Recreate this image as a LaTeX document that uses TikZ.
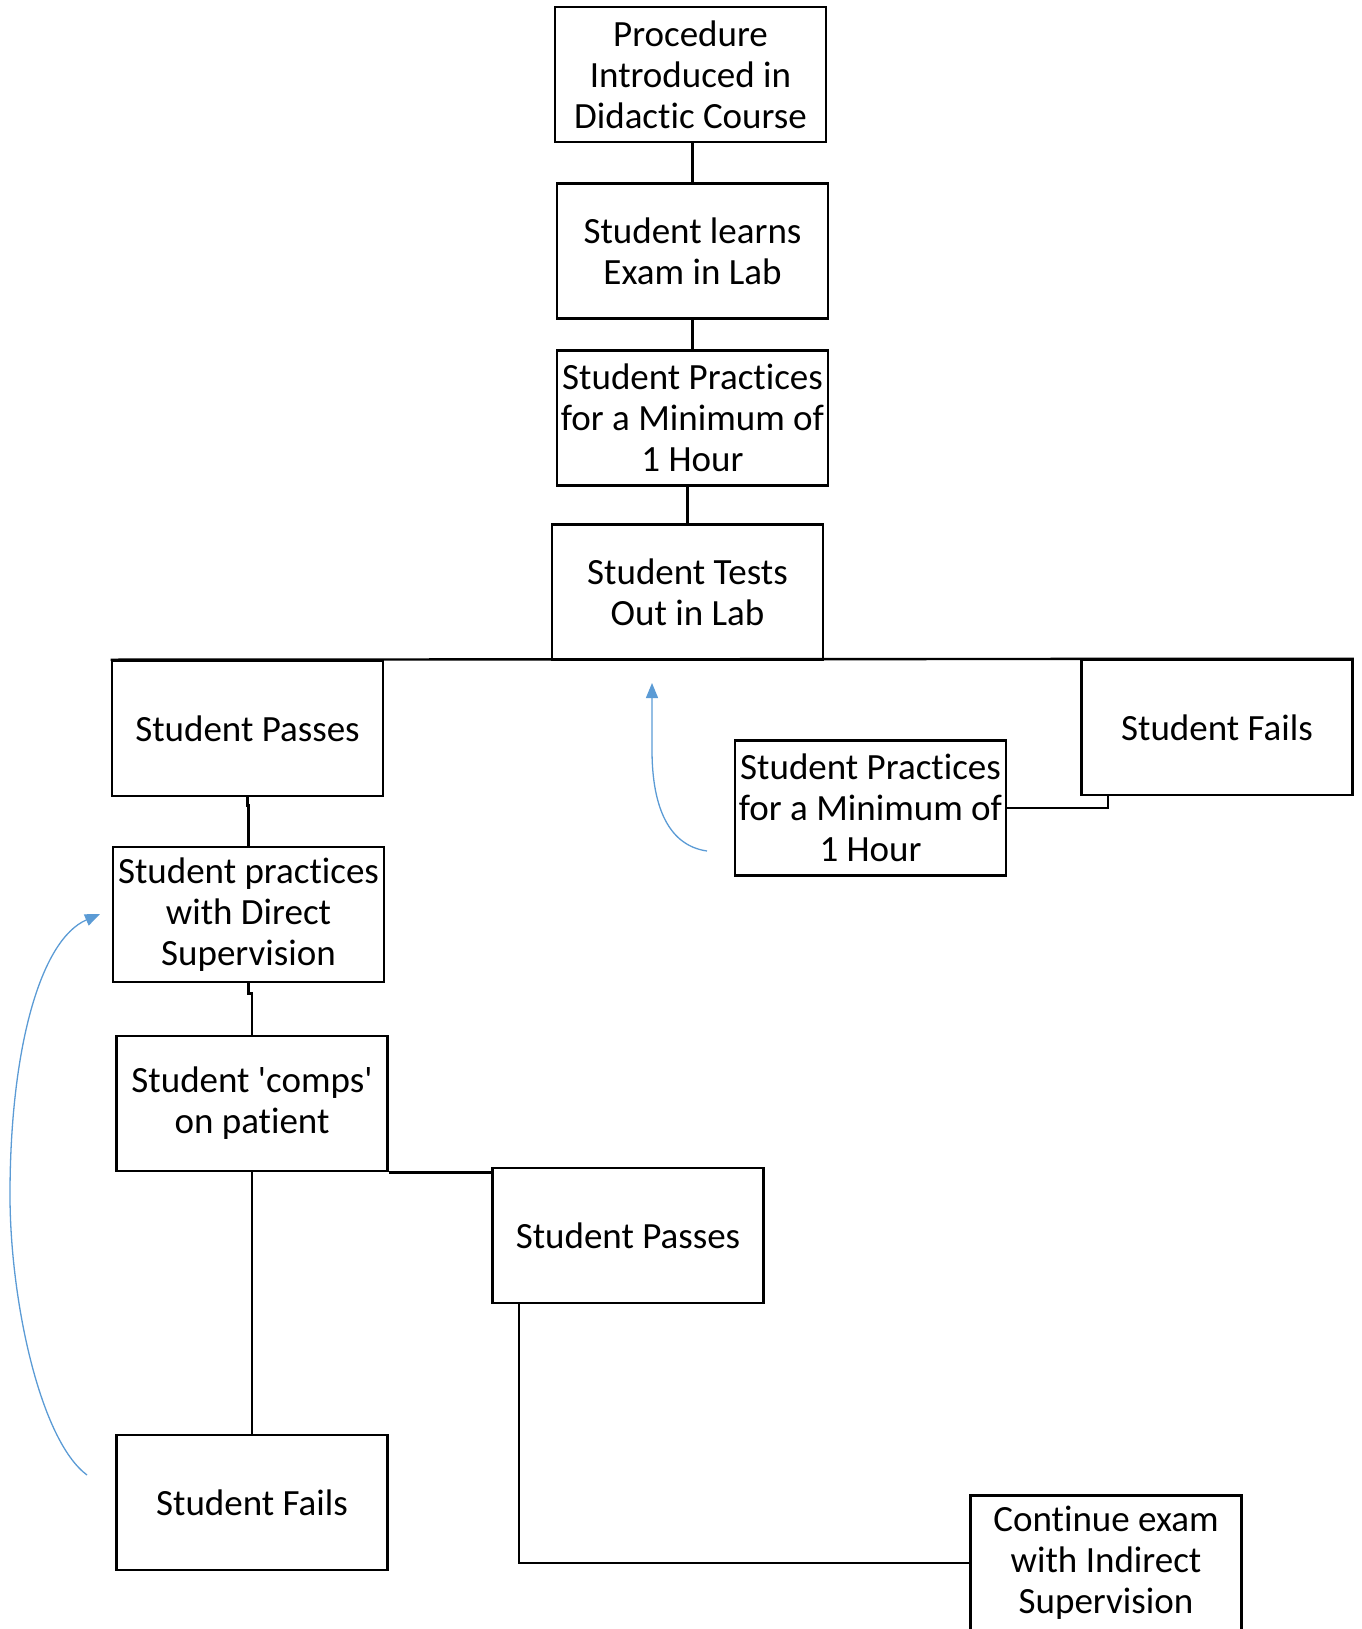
\documentclass[tikz,border=0pt]{standalone}
\usepackage{fontspec}
\setmainfont{Carlito}[RawFeature={-liga;-clig;-dlig;-calt}]
\usetikzlibrary{arrows.meta}
\definecolor{arrblue}{RGB}{91,155,213}
\tikzset{
  box/.style={draw=black, line width=2.6pt, minimum width=271pt, minimum height=135pt,
    inner sep=0pt, align=center, font=\fontsize{37}{41}\selectfont},
  conn/.style={draw=black, line width=2.4pt},
  loopback/.style={draw=arrblue, line width=1.3pt, -{Triangle[length=15pt,width=12pt]}}
}
\begin{document}
\begin{tikzpicture}[x=1pt,y=-1pt]
\useasboundingbox (0,0) rectangle (1361,1629);
\node[box] (n1) at (690.5,74.5) {Procedure\\Introduced in\\Didactic Course};
\node[box] (n2) at (692.5,251) {Student learns\\Exam in Lab};
\node[box] (n3) at (692.5,418) {Student Practices\\for a Minimum of\\1 Hour};
\node[box] (n4) at (687.5,592) {Student Tests\\Out in Lab};
\node[box] (n5) at (247.5,728.5) {Student Passes};
\node[box] (n6) at (1217,727.5) {Student Fails};
\node[box] (n7) at (870.5,808) {Student Practices\\for a Minimum of\\1 Hour};
\node[box] (n8) at (248.5,914.5) {Student practices\\with Direct\\Supervision};
\node[box] (n9) at (252,1103.5) {Student \textquotesingle comps\textquotesingle\\on patient};
\node[box] (n10) at (628,1235.5) {Student Passes};
\node[box] (n11) at (252,1502.5) {Student Fails};
\node[box] (n12) at (1106,1563) {Continue exam\\with Indirect\\Supervision};

\draw[conn] (n2.north) -- (n2.north |- n1.south);
\draw[conn] (n2.south) -- (n3.north);
\draw[conn] (n4.north) -- (n4.north |- n3.south);
\draw[conn] (n5.north west) -- (n6.north east);
\draw[conn] (n5.south) -- ++(0,8) -| (n8.north);
\draw[conn] (n7.east) -| ([xshift=28pt]n6.south west);
\draw[conn] (n8.south) -- ++(0,10) -| (n9.north);
\draw[conn] (n9.south) -- (n11.north);
\draw[conn] (n9.south east) -- (n9.south east -| n10.west);
\draw[conn] ([xshift=28pt]n10.south west) |- (n12.west);

\coordinate (a1s) at (707,851);
\coordinate (a1e) at (652,683);
\draw[loopback] (a1s) .. controls (665,845) and (652,800) .. (652,750) -- (a1e);
\coordinate (a2s) at (87,1475);
\coordinate (a2m) at (10,1195);
\coordinate (a2e) at (100,914);
\draw[loopback] (a2s) .. controls (40,1440) and (10,1300) .. (a2m)
  .. controls (10,1050) and (40,940) .. (a2e);
\end{tikzpicture}
\end{document}
